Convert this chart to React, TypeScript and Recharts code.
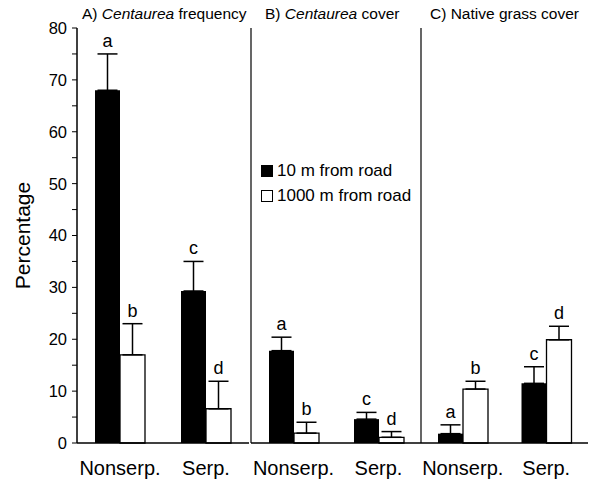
import { BarChart, Bar, XAxis, YAxis, ErrorBar, LabelList, Legend } from "recharts";

const categories = ["Nonserp.", "Serp."];

// A) Centaurea frequency
const freqNear = [68, 29.3];
const freqNearErr = [7, 5.7];
const freqFar = [17, 6.6];
const freqFarErr = [6, 5.3];

// B) Centaurea cover
const coverNear = [17.8, 4.6];
const coverNearErr = [2.6, 1.3];
const coverFar = [1.9, 1.1];
const coverFarErr = [2.1, 1.1];

// C) Native grass cover
const grassNear = [1.8, 11.5];
const grassNearErr = [1.7, 3.2];
const grassFar = [10.4, 19.9];
const grassFarErr = [1.5, 2.6];

const nearLetters = ["a", "c"];
const farLetters = ["b", "d"];

const yTicks = [0, 5, 10, 15, 20, 25, 30, 35, 40, 45, 50, 55, 60, 65, 70, 75, 80];

const FONT = "'Liberation Sans', Arial, Helvetica, sans-serif";

function buildRows(near: number[], nearErr: number[], far: number[], farErr: number[]) {
  return categories.map((cat, i) => ({
    cat,
    near: near[i],
    nearErr: [0, nearErr[i]],
    far: far[i],
    farErr: [0, farErr[i]],
  }));
}

const letterLabel = (letters: string[], vals: number[], errs: number[]) => (props: any) => {
  const { x, y, width, height, index } = props;
  const pxPerUnit = height / vals[index];
  const top = y - errs[index] * pxPerUnit;
  return (
    <text
      x={x + width / 2}
      y={top - 7}
      textAnchor="middle"
      fontSize={18}
      fontFamily={FONT}
      fill="#000"
    >
      {letters[index]}
    </text>
  );
};

const YTick = (props: any) => {
  const { x, y, payload } = props;
  if (payload.value % 10 !== 0) return null;
  return (
    <text x={x} y={y} dy="0.36em" textAnchor="end" fontSize={16.5} fontFamily={FONT} fill="#000">
      {payload.value}
    </text>
  );
};

const LegendBox = (props: any) => {
  const { payload } = props;
  return (
    <div style={{ fontFamily: FONT, fontSize: 17, color: "#000", lineHeight: "25px" }}>
      {(payload || []).map((p: any) => (
        <div key={p.value} style={{ display: "flex", alignItems: "center", whiteSpace: "nowrap" }}>
          <span
            style={{
              display: "inline-block",
              width: 10,
              height: 10,
              background: p.color,
              border: "1px solid #000",
              marginRight: 4,
            }}
          />
          {p.value}
        </div>
      ))}
    </div>
  );
};

function Panel({
  left,
  width,
  yWidth,
  marginRight,
  near,
  nearErr,
  far,
  farErr,
  showTicks,
  showLegend,
}: any) {
  const data = buildRows(near, nearErr, far, farErr);
  return (
    <div style={{ position: "absolute", left, top: 0 }}>
      <BarChart
        width={width}
        height={481}
        data={data}
        margin={{ top: 28, right: marginRight, left: 0, bottom: 8 }}
        barGap={0}
      >
        <XAxis
          dataKey="cat"
          tickLine={false}
          axisLine={{ stroke: "#000", strokeWidth: 1.5 }}
          tick={{ fontSize: 20, fill: "#000", fontFamily: FONT }}
          tickMargin={12}
          height={30}
          interval={0}
        />
        {showTicks ? (
          <YAxis
            width={yWidth}
            domain={[0, 80]}
            ticks={yTicks}
            interval={0}
            tickSize={5}
            tickMargin={5}
            tick={<YTick />}
            tickLine={{ stroke: "#000" }}
            axisLine={{ stroke: "#000", strokeWidth: 1.5 }}
            label={{
              value: "Percentage",
              angle: -90,
              position: "insideLeft",
              offset: 0,
              dx: 23,
              style: { fontSize: 21, fill: "#000", fontFamily: FONT, textAnchor: "middle" },
            }}
          />
        ) : (
          <YAxis
            width={yWidth}
            domain={[0, 80]}
            ticks={yTicks}
            tick={false}
            tickLine={false}
            axisLine={{ stroke: "#000", strokeWidth: 1.2 }}
          />
        )}
        {showLegend && (
          <Legend
            layout="horizontal"
            verticalAlign="middle"
            align="center"
            wrapperStyle={{ left: 11, top: 158, width: 160 }}
            content={<LegendBox />}
          />
        )}
        <Bar
          dataKey="near"
          name="10 m from road"
          fill="#000"
          barSize={25}
          isAnimationActive={false}
        >
          <ErrorBar dataKey="nearErr" width={10} stroke="#000" strokeWidth={1.5} />
          <LabelList dataKey="near" content={letterLabel(nearLetters, near, nearErr)} />
        </Bar>
        <Bar
          dataKey="far"
          name="1000 m from road"
          fill="#fff"
          stroke="#000"
          strokeWidth={1.3}
          barSize={25}
          isAnimationActive={false}
        >
          <ErrorBar dataKey="farErr" width={10} stroke="#000" strokeWidth={1.5} />
          <LabelList dataKey="far" content={letterLabel(farLetters, far, farErr)} />
        </Bar>
      </BarChart>
    </div>
  );
}

const titleStyle: any = {
  position: "absolute",
  top: 5,
  fontFamily: FONT,
  fontSize: 15.5,
  color: "#000",
  whiteSpace: "nowrap",
};

export default function App() {
  return (
    <div
      style={{
        position: "absolute",
        left: 0,
        top: 0,
        width: 591,
        height: 481,
        background: "#fff",
        overflow: "hidden",
      }}
    >
      <Panel
        left={0}
        width={250}
        yWidth={77}
        marginRight={1}
        near={freqNear}
        nearErr={freqNearErr}
        far={freqFar}
        farErr={freqFarErr}
        showTicks
      />
      <Panel
        left={250}
        width={171}
        yWidth={1}
        marginRight={0}
        near={coverNear}
        nearErr={coverNearErr}
        far={coverFar}
        farErr={coverFarErr}
        showLegend
      />
      <Panel
        left={420}
        width={171}
        yWidth={1}
        marginRight={3}
        near={grassNear}
        nearErr={grassNearErr}
        far={grassFar}
        farErr={grassFarErr}
      />
      <div style={{ ...titleStyle, left: 82 }}>
        A) <i>Centaurea</i> frequency
      </div>
      <div style={{ ...titleStyle, left: 265 }}>
        B) <i>Centaurea</i> cover
      </div>
      <div style={{ ...titleStyle, left: 430 }}>C) Native grass cover</div>
    </div>
  );
}
